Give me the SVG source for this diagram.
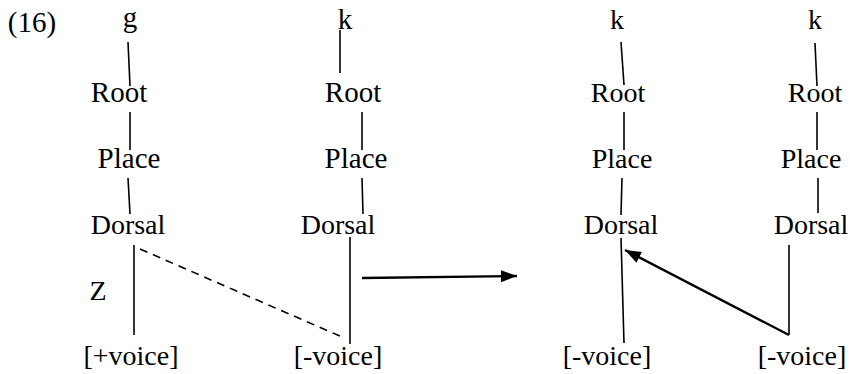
<svg xmlns="http://www.w3.org/2000/svg" width="850" height="374" viewBox="0 0 850 374">
<style>
.t{font-family:'Liberation Serif',serif;font-size:28px;fill:#000;text-anchor:middle}
.c{font-family:'Liberation Serif',serif;font-size:29px;fill:#000;text-anchor:middle}
.l{stroke:#000;stroke-width:1.6;fill:none}
.d{stroke:#000;stroke-width:1.6;fill:none;stroke-dasharray:8 6}
.a{stroke:#000;stroke-width:2.4;fill:none}
</style>
<defs>
<marker id="ah" markerWidth="16" markerHeight="12" refX="16" refY="6" orient="auto" markerUnits="userSpaceOnUse">
<path d="M0,0 L16,6 L0,12 Z" fill="#000"/>
</marker>
</defs>
<g id="label16"><text class="c" x="32" y="32">(16)</text></g>
<g id="tree1">
<text class="c" x="130" y="27">g</text>
<text class="c" x="119" y="102">Root</text>
<text class="c" x="129" y="168">Place</text>
<text class="t" x="128" y="234">Dorsal</text>
<text class="t" x="98" y="300">Z</text>
<text class="t" x="131" y="365">[+voice]</text>
</g>
<g id="tree2">
<text class="c" x="345" y="29">k</text>
<text class="c" x="353" y="102">Root</text>
<text class="c" x="356" y="168">Place</text>
<text class="t" x="338" y="234">Dorsal</text>
<text class="t" x="338" y="365">[-voice]</text>
</g>
<g id="tree3">
<text class="t" x="617" y="29">k</text>
<text class="t" x="618" y="102">Root</text>
<text class="t" x="622" y="168">Place</text>
<text class="t" x="621" y="234">Dorsal</text>
<text class="t" x="607" y="365">[-voice]</text>
</g>
<g id="tree4">
<text class="t" x="815" y="29">k</text>
<text class="t" x="815" y="102">Root</text>
<text class="t" x="811" y="168">Place</text>
<text class="t" x="811" y="234">Dorsal</text>
<text class="t" x="802" y="365">[-voice]</text>
</g>
<g id="connectors">
<line class="l" x1="128" y1="42" x2="130" y2="86"/>
<line class="l" x1="130" y1="112" x2="130" y2="150"/>
<line class="l" x1="128" y1="178" x2="130" y2="214"/>
<line class="l" x1="134" y1="245" x2="134" y2="335"/>
<line class="d" x1="140" y1="249" x2="342" y2="337"/>
<line class="l" x1="340" y1="30" x2="340" y2="73"/>
<line class="l" x1="362" y1="112" x2="362" y2="150"/>
<line class="l" x1="362" y1="178" x2="363" y2="214"/>
<line class="l" x1="350" y1="237" x2="350" y2="344"/>
<line class="a" x1="362" y1="278" x2="517" y2="276" marker-end="url(#ah)"/>
<line class="l" x1="621" y1="42" x2="624" y2="85"/>
<line class="l" x1="624" y1="112" x2="624" y2="150"/>
<line class="l" x1="622" y1="178" x2="621" y2="215"/>
<line class="l" x1="621" y1="238" x2="624" y2="343"/>
<line class="l" x1="815" y1="43" x2="817" y2="86"/>
<line class="l" x1="817" y1="112" x2="817" y2="150"/>
<line class="l" x1="818" y1="178" x2="818" y2="213"/>
<line class="l" x1="789" y1="245" x2="789" y2="335"/>
<line class="a" x1="789" y1="335" x2="625" y2="250" marker-end="url(#ah)"/>
</g>
</svg>
